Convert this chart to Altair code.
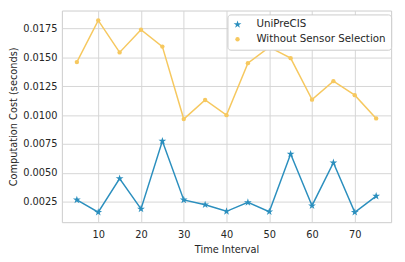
import altair as alt
import pandas as pd

time_interval = [5, 10, 15, 20, 25, 30, 35, 40, 45, 50, 55, 60, 65, 70, 75]
uniprecis = [0.00267, 0.00160, 0.00451, 0.00189, 0.00776, 0.00267, 0.00225, 0.00168,
             0.00245, 0.00165, 0.00664, 0.00217, 0.00589, 0.00160, 0.00300]
without_sel = [0.01459, 0.01820, 0.01543, 0.01739, 0.01593, 0.00966, 0.01131, 0.01000,
               0.01450, 0.01588, 0.01493, 0.01134, 0.01294, 0.01173, 0.00972]
series_names = ["UniPreCIS", "Without Sensor Selection"]
colors = ["#2b8fbe", "#f6c85f"]
x_ticks = [10, 20, 30, 40, 50, 60, 70]
y_ticks = [0.0025, 0.0050, 0.0075, 0.0100, 0.0125, 0.0150, 0.0175]

rows = []
for t, a, b in zip(time_interval, uniprecis, without_sel):
    rows.append({"t": t, "v": a, "s": series_names[0], "s2": series_names[0]})
    rows.append({"t": t, "v": b, "s": series_names[1], "s2": series_names[1]})
df = pd.DataFrame(rows)

star = "M0,-1L0.2245,-0.309L0.951,-0.309L0.363,0.118L0.588,0.809L0,0.382L-0.588,0.809L-0.363,0.118L-0.951,-0.309L-0.2245,-0.309Z"
bar = "M-2.8,-0.17L2.8,-0.17L2.8,0.17L-2.8,0.17Z"
legend_symbol = bar + star

xenc = alt.X("t:Q", scale=alt.Scale(domain=[1.5, 78.5], nice=False, zero=False),
             axis=alt.Axis(values=x_ticks, title="Time Interval", grid=True,
                           labelPadding=8, titlePadding=5))
yenc = alt.Y("v:Q", scale=alt.Scale(domain=[0.00074, 0.01905], nice=False, zero=False),
             axis=alt.Axis(values=y_ticks, format=".4f", title="Computation Cost (seconds)", grid=True,
                           labelPadding=5, titlePadding=4))
cscale = alt.Scale(domain=series_names, range=colors)
legend = alt.Legend(title=None, orient="none", legendX=169, legendY=4,
                    symbolType=legend_symbol,
                    symbolSize=64, symbolStrokeWidth=0, labelOffset=14,
                    labelFontSize=10.5, labelColor="#262626", labelFont="DejaVu Sans",
                    fillColor="white", strokeColor="#cccccc", padding=5,
                    cornerRadius=3, rowPadding=4)

lines = alt.Chart(df).mark_line(strokeWidth=1.5).encode(
    x=xenc, y=yenc, color=alt.Color("s:N", scale=cscale, legend=legend))
points = alt.Chart(df).mark_point(filled=True, opacity=1).encode(
    x=xenc, y=yenc,
    color=alt.Color("s:N", scale=cscale, legend=legend),
    shape=alt.Shape("s2:N", scale=alt.Scale(domain=series_names, range=[star, "circle"]), legend=None),
    size=alt.Size("s2:N", scale=alt.Scale(domain=series_names, range=[70, 20]), legend=None),
)

chart = (lines + points).properties(
    width=336, height=216,
    autosize=alt.AutoSizeParams(type="none"),
    padding={"left": 55, "top": 0, "right": 6, "bottom": 36},
).configure_view(stroke="#cccccc", strokeWidth=1).configure_axis(
    gridColor="#d5d5d5", gridWidth=1, domain=False, ticks=False,
    labelFont="DejaVu Sans", titleFont="DejaVu Sans", labelFontSize=10, titleFontSize=10,
    labelColor="#262626", titleColor="#262626", titleFontWeight="normal",
)

chart.save("out.html", embed_options={"renderer": "svg", "actions": False})
